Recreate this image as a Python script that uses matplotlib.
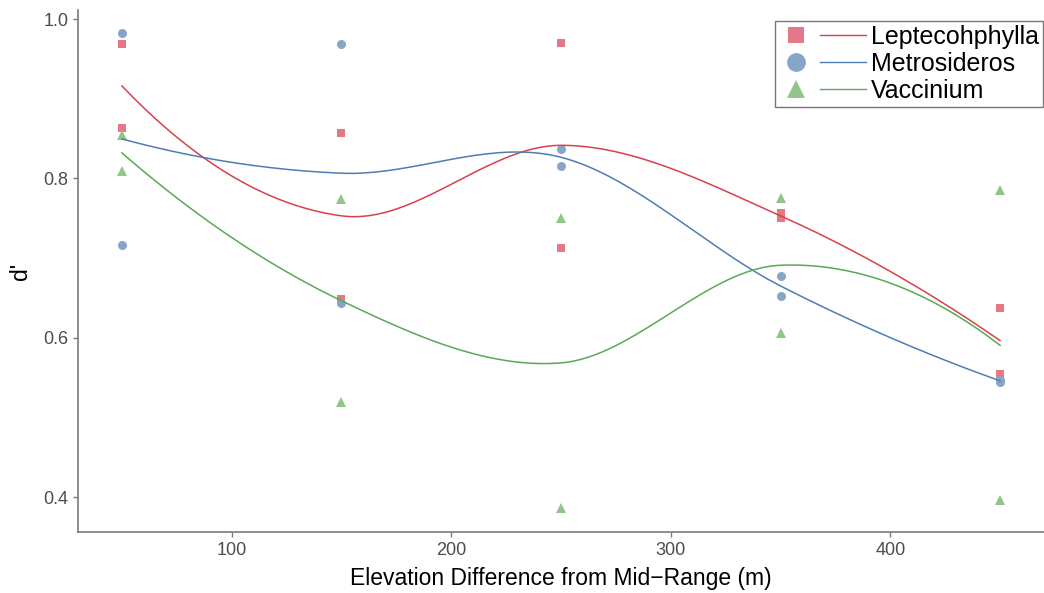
import numpy as np
import matplotlib
matplotlib.use("Agg")
import matplotlib.pyplot as plt
from matplotlib.lines import Line2D
from matplotlib.legend_handler import HandlerBase

plt.rcParams["font.family"] = ["Liberation Sans", "DejaVu Sans"]

# Elevation difference from mid-range (m); two replicate d' values per species and level
elevation = [50, 150, 250, 350, 450]
lepto_a = [0.969, 0.857, 0.970, 0.756, 0.638]
lepto_b = [0.863, 0.649, 0.713, 0.750, 0.555]
metro_a = [0.983, 0.969, 0.837, 0.677, 0.547]
metro_b = [0.716, 0.644, 0.816, 0.653, 0.545]
vacc_a = [0.855, 0.774, 0.750, 0.776, 0.785]
vacc_b = [0.809, 0.519, 0.387, 0.606, 0.396]

species = ["Leptecohphylla", "Metrosideros", "Vaccinium"]
x_ticks = [100, 200, 300, 400]
y_ticks = [0.4, 0.6, 0.8, 1.0]


def local_quadratic(x, y, x0, span=0.75):
    """Tricube-weighted local quadratic fit at x0: returns value and slope."""
    n = len(x)
    q = int(np.floor(n * span))
    d = np.abs(x - x0)
    h = np.sort(d)[q - 1]
    u = d / h
    w = np.where(u < 1, (1 - u ** 3) ** 3, 0.0)
    X = np.column_stack([np.ones(n), x - x0, (x - x0) ** 2])
    sw = np.sqrt(w)
    beta, *_ = np.linalg.lstsq(X * sw[:, None], y * sw, rcond=None)
    return beta[0], beta[1]


def loess_curve(x, y, grid, span=0.75):
    """Loess surface: local fits at the vertices, cubic Hermite in between."""
    x = np.asarray(x, float)
    y = np.asarray(y, float)
    verts = np.unique(x)
    vals, slopes = zip(*(local_quadratic(x, y, v, span) for v in verts))
    vals = np.array(vals)
    slopes = np.array(slopes)
    out = np.empty_like(grid)
    for i, g in enumerate(grid):
        k = min(np.searchsorted(verts, g, side="right") - 1, len(verts) - 2)
        k = max(k, 0)
        x0, x1 = verts[k], verts[k + 1]
        hh = x1 - x0
        t = (g - x0) / hh
        h00 = 2 * t ** 3 - 3 * t ** 2 + 1
        h10 = t ** 3 - 2 * t ** 2 + t
        h01 = -2 * t ** 3 + 3 * t ** 2
        h11 = t ** 3 - t ** 2
        out[i] = (h00 * vals[k] + h10 * hh * slopes[k]
                  + h01 * vals[k + 1] + h11 * hh * slopes[k + 1])
    return out


class MarkerThenLine(HandlerBase):
    """Legend key with the point symbol on the left and the smoother line on the right."""

    def create_artists(self, legend, orig_handle, xdescent, ydescent,
                       width, height, fontsize, trans):
        mk_handle, ln_handle = orig_handle
        y = height / 2 - ydescent
        x0 = -xdescent
        mk = Line2D([x0 + 0.2 * width], [y], linestyle="none",
                    marker=mk_handle.get_marker(),
                    color=mk_handle.get_color(),
                    markersize=mk_handle.get_markersize(), markeredgewidth=0)
        ln = Line2D([x0 + 0.47 * width, x0 + width], [y, y],
                    color=ln_handle.get_color(),
                    linewidth=ln_handle.get_linewidth())
        mk.set_transform(trans)
        ln.set_transform(trans)
        return [mk, ln]


series = [
    (lepto_a, lepto_b, "s", "#E47884", "#D8414B", 6.0, 11.5),
    (metro_a, metro_b, "o", "#88A5C8", "#4E7DB3", 6.5, 13.5),
    (vacc_a, vacc_b, "^", "#90C788", "#5BA857", 7.0, 13.5),
]

fig = plt.figure(figsize=(10.44, 5.93), dpi=100)
ax = fig.add_axes([78 / 1044, 1 - 532 / 593, 1 - 78 / 1044, (532 - 10) / 593])

grid = np.linspace(min(elevation), max(elevation), 160)
handles = []
for (a, b, mk, mcol, lcol, ms, lms), name in zip(series, species):
    xs = np.array(elevation + elevation, float)
    ys = np.array(a + b, float)
    ax.plot(xs, ys, linestyle="none", marker=mk, color=mcol, markersize=ms,
            markeredgewidth=0, zorder=2)
    ax.plot(grid, loess_curve(xs, ys, grid), color=lcol, linewidth=1.1, zorder=3)
    h_marker = Line2D([], [], linestyle="none", marker=mk, color=mcol,
                      markersize=lms, markeredgewidth=0)
    h_line = Line2D([], [], color=lcol, linewidth=1.0)
    handles.append((h_marker, h_line))

ax.set_xlim(30, 470)
ax.set_ylim(0.3563, 1.0113)
ax.set_xticks(x_ticks)
ax.set_yticks(y_ticks)
ax.set_yticklabels([f"{v:.1f}" for v in y_ticks])

for side in ("top", "right"):
    ax.spines[side].set_visible(False)
for side in ("left", "bottom"):
    ax.spines[side].set_color("#7a7a7a")
    ax.spines[side].set_linewidth(1.2)
ax.tick_params(axis="both", colors="#7a7a7a", length=3.6, width=1.0,
               labelsize=13, labelcolor="#4d4d4d", pad=3.5)

ax.set_xlabel("Elevation Difference from Mid\u2212Range (m)", fontsize=16.5,
              color="black", labelpad=6)
ax.set_ylabel("d'", fontsize=16.5, color="black", labelpad=8)

leg = fig.legend(handles, species, loc="upper right",
                 bbox_to_anchor=(1043 / 1044, 1 - 21 / 593),
                 handler_map={tuple: MarkerThenLine()},
                 fontsize=18, frameon=True, fancybox=False, borderaxespad=0,
                 handlelength=3.5, handletextpad=0.2, labelspacing=0.12,
                 borderpad=0.15)
frame = leg.get_frame()
frame.set_edgecolor("#555555")
frame.set_linewidth(1.0)
frame.set_facecolor("white")

fig.savefig("out.png", dpi=100)
